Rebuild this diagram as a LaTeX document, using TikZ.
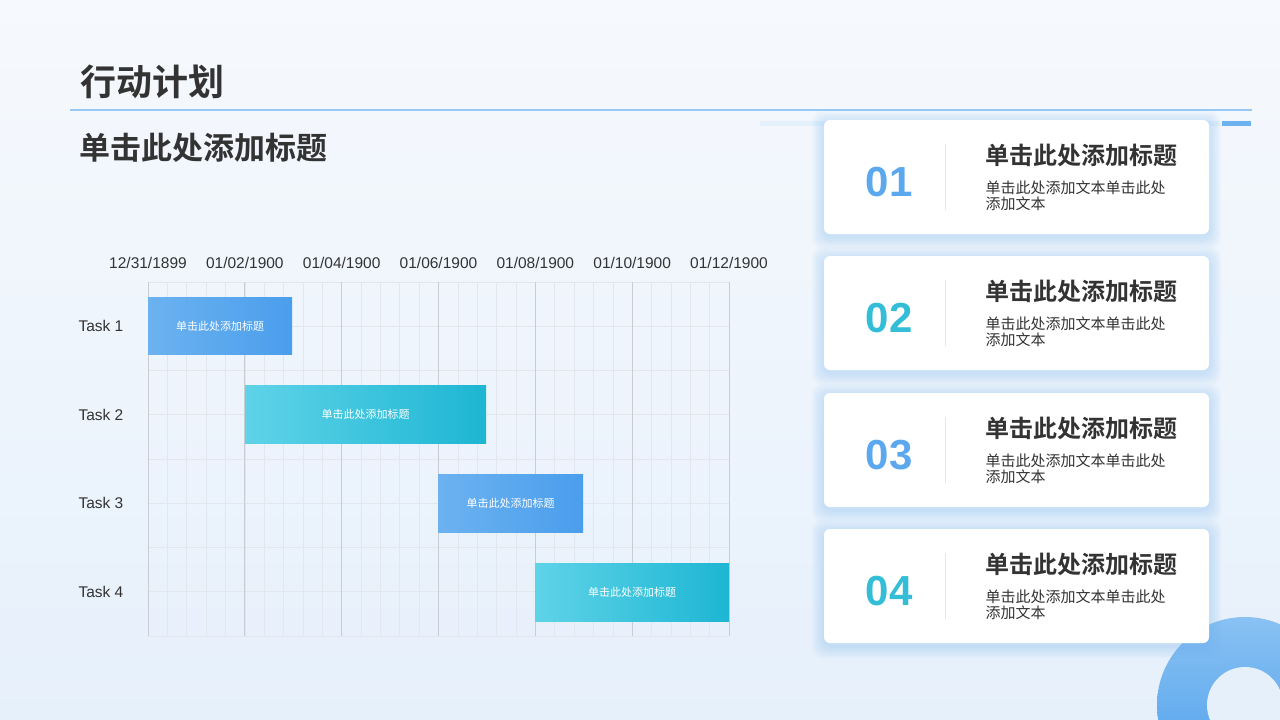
\documentclass[tikz,border=0pt]{standalone}
\usepackage{fontspec}
\setmainfont{Liberation Sans}
\newfontfamily\cjk{Noto Sans CJK SC}
\newfontfamily\cjkb{Noto Sans CJK SC Bold}
\definecolor{bga}{HTML}{F6F9FD}
\definecolor{bgb}{HTML}{E6F0FB}
\definecolor{blueA}{HTML}{4A9EEC}
\definecolor{blueB}{HTML}{6CB2F0}
\definecolor{cyanA}{HTML}{1DB6D3}
\definecolor{cyanB}{HTML}{5FD3E8}
\definecolor{txt}{HTML}{333333}
\definecolor{gridmaj}{HTML}{C8CDD4}
\definecolor{gridmin}{HTML}{E2E7EE}
\tikzset{
 bartxt/.style={text=white,font=\cjk\fontsize{11}{13}\selectfont},
 card/.style={fill=white,rounded corners=6pt},
 glow/.style={fill=blueB,fill opacity=0.05,rounded corners=10pt},
 num/.style={font=\bfseries\fontsize{42}{44}\selectfont},
 ctitle/.style={font=\cjkb\fontsize{24}{27}\selectfont,text=txt,anchor=west},
 ctext/.style={font=\cjk\fontsize{15}{19}\selectfont,text=txt,anchor=north west,align=left},
 ax/.style={font=\fontsize{15.5}{17}\selectfont,text=txt},
}
\begin{document}
\begin{tikzpicture}[x=1pt,y=-1pt]
\useasboundingbox (0,0) rectangle (1280,720);
\shade[top color=bga,bottom color=bgb] (0,0) rectangle (1280,720);
\begin{scope}
\clip (0,0) rectangle (1280,720);
\shade[top color=blueB!80,bottom color=blueA] (1245,705) circle (88);
\fill[bgb] (1245,705) circle (38);
\end{scope}
% header
\node[anchor=west,font=\cjkb\fontsize{36}{40}\selectfont,text=txt] (title) at (77,82) {行动计划};
\draw[blueB!70,line width=1.2pt] (70,110) -- (1252,110);
\fill[blueB!18] (760,121) rectangle (1220,126);
\fill[blueB] (1222,121) rectangle (1251,126);
\node[anchor=west,font=\cjkb\fontsize{31}{34}\selectfont,text=txt] (sub) at (76,148) {单击此处添加标题};
% grid
\foreach \i in {0,...,29}{\draw[gridmin,line width=0.6pt] ({148+\i*19.3667},282) -- ({148+\i*19.3667},636);}
\foreach \j in {0,...,8}{\draw[gridmin,line width=0.6pt] (148,{282+\j*44.25}) -- (729,{282+\j*44.25});}
\foreach \i in {0,...,6}{\draw[gridmaj,line width=0.8pt] ({148+\i*96.8333},282) -- ({148+\i*96.8333},636);}
\foreach \d [count=\k from 0] in {12/31/1899,01/02/1900,01/04/1900,01/06/1900,01/08/1900,01/10/1900,01/12/1900}
 \node[ax] (d\k) at ({148+\k*96.8333},263) {\d};
\foreach \k in {1,...,4} \node[ax,anchor=west] (t\k) at (75,{326+(\k-1)*88.5}) {Task \k};
% bars
\shade[left color=blueB,right color=blueA] (148,297) rectangle (292,354);
\node[bartxt] (b1) at (220,326) {单击此处添加标题};
\shade[left color=cyanB,right color=cyanA] (245,385) rectangle (486,443);
\node[bartxt] (b2) at (365.5,414) {单击此处添加标题};
\shade[left color=blueB,right color=blueA] (438,474) rectangle (583,532);
\node[bartxt] (b3) at (510.5,503) {单击此处添加标题};
\shade[left color=cyanB,right color=cyanA] (535,563) rectangle (729,621);
\node[bartxt] (b4) at (632,592) {单击此处添加标题};
% cards
\foreach \n/\y/\c in {01/120/blueA,02/256/cyanA,03/393/blueA,04/529/cyanA}{
 \foreach \g in {2,4,...,12} \fill[glow] (824-\g,\y-\g+3) rectangle (1209+\g,\y+114+\g+3);
 \fill[card] (824,\y) rectangle (1209,\y+114);
 \node[num,text=\c!90] (n\n) at (889,\y+62) {\n};
 \draw[gridmin,line width=0.8pt] (945,\y+24) -- (945,\y+90);
 \node[ctitle] (ct\n) at (982,\y+35) {单击此处添加标题};
 \node[ctext] (cx\n) at (982,\y+57) {单击此处添加文本单击此处\\[-3pt]添加文本};
}
\end{tikzpicture}
\end{document}
